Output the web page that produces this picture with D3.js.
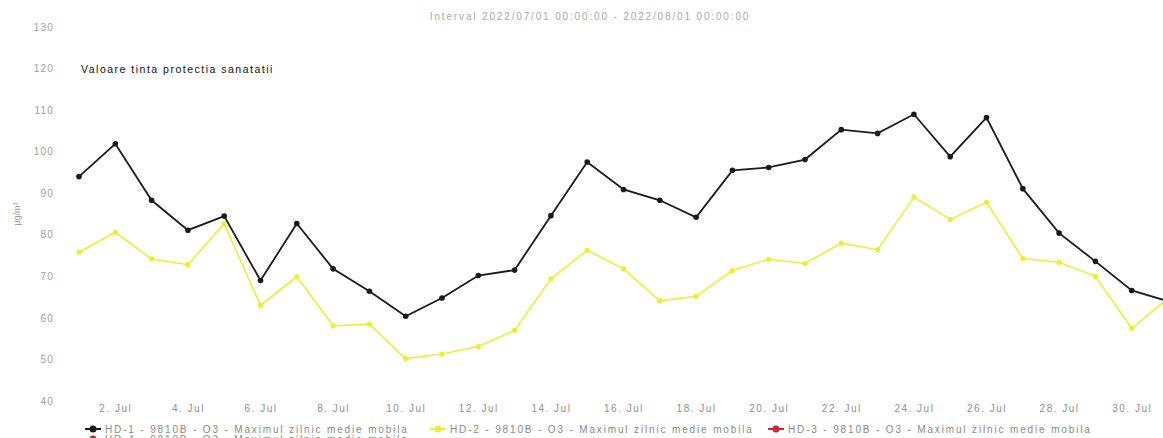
<!DOCTYPE html>
<html><head><meta charset="utf-8">
<script src="https://cdn.jsdelivr.net/npm/d3@7"></script>
<style>
html,body{margin:0;padding:0;background:#fff;overflow:hidden;}
svg{display:block;font-family:"Liberation Sans",Arial,sans-serif;}
</style></head><body>
<svg id="c" width="1163" height="438"></svg>
<script>
const days = d3.range(1, 32).map(d => new Date(2022, 6, d));
const hd1 = [94.0,101.9,88.3,81.1,84.5,69.0,82.7,71.8,66.4,60.4,64.8,70.2,71.5,84.6,97.5,90.9,88.3,84.2,95.5,96.2,98.1,105.3,104.4,109.0,98.8,108.2,91.1,80.4,73.6,66.6,64.0];
const hd2 = [75.8,80.6,74.2,72.8,82.7,63.0,69.9,58.1,58.5,50.2,51.3,53.1,57.0,69.4,76.3,71.8,64.1,65.2,71.4,74.1,73.1,78.0,76.4,89.1,83.7,87.8,74.3,73.4,70.0,57.5,64.7];
const yTicks = [40,50,60,70,80,90,100,110,120,130];
const xTickDays = d3.range(2, 31, 2);
const titleText = "Interval 2022/07/01 00:00:00 - 2022/08/01 00:00:00";
const targetLabel = "Valoare tinta protectia sanatatii";
const targetValue = 120;
const yTitle = "µg/m³";
const legendItems = [
  {name:"HD-1 - 9810B - O3 - Maximul zilnic medie mobila", color:"#1a1a1a"},
  {name:"HD-2 - 9810B - O3 - Maximul zilnic medie mobila", color:"#eeee3a"},
  {name:"HD-3 - 9810B - O3 - Maximul zilnic medie mobila", color:"#d2233c"},
  {name:"HD-4 - 9810B - O3 - Maximul zilnic medie mobila", color:"#b8283c"}
];

const svg = d3.select("#c");
const x = d3.scaleTime().domain([new Date(2022,6,1), new Date(2022,6,30)]).range([79, 1131.7]);
const y = d3.scaleLinear().domain([40,130]).range([401,27]);

// title
svg.append("text").attr("x", 590).attr("y", 20).attr("text-anchor","middle")
  .attr("font-size",10).attr("letter-spacing","1.85px").attr("fill","#a8a8a8").text(titleText);

// y axis
const yAxis = d3.axisLeft(y).tickValues(yTicks).tickSize(0).tickPadding(0);
const gy = svg.append("g").attr("transform","translate(54,0)").call(yAxis);
gy.select(".domain").remove();
gy.selectAll("text").attr("font-size",10).attr("letter-spacing","1.2px").attr("fill","#a0a0a0")
  .attr("font-family","Liberation Sans, Arial, sans-serif");

svg.append("text").attr("transform","translate(20,214) rotate(-90)").attr("text-anchor","middle")
  .attr("font-size",9).attr("fill","#a0a0a0").text(yTitle);

// x axis
const xAxis = d3.axisBottom(x).tickValues(xTickDays.map(d => new Date(2022,6,d)))
  .tickFormat(d3.timeFormat("%-d. Jul")).tickSize(0).tickPadding(0);
const gx = svg.append("g").attr("transform","translate(0,405)").call(xAxis);
gx.select(".domain").remove();
gx.selectAll("text").attr("font-size",10).attr("letter-spacing","1.5px").attr("fill","#909090")
  .attr("font-family","Liberation Sans, Arial, sans-serif");

// target label
svg.append("text").attr("x",81).attr("y",y(targetValue)+4).attr("font-size",10.5)
  .attr("letter-spacing","1.5px").attr("fill","#111").text(targetLabel);

// lines
const line = d3.line().x((d,i) => x(days[i])).y(d => y(d));
svg.append("path").datum(hd2).attr("d", line).attr("fill","none").attr("stroke","#eeee3a").attr("stroke-width",1.6);
svg.selectAll(".p2").data(hd2).enter().append("circle").attr("cx",(d,i)=>x(days[i])).attr("cy",d=>y(d))
  .attr("r",2.6).attr("fill","#eeee30");
svg.append("path").datum(hd1).attr("d", line).attr("fill","none").attr("stroke","#1a1a1a").attr("stroke-width",1.8);
svg.selectAll(".p1").data(hd1).enter().append("circle").attr("cx",(d,i)=>x(days[i])).attr("cy",d=>y(d))
  .attr("r",2.8).attr("fill","#1a1a1a");

// legend
const legPos = [[85,429],[430,429],[768,429],[85,439]];
legendItems.forEach((it,i) => {
  const [lx,ly] = legPos[i];
  const g = svg.append("g").attr("transform",`translate(${lx},${ly})`);
  g.append("line").attr("x1",0).attr("x2",16).attr("y1",0).attr("y2",0).attr("stroke",it.color).attr("stroke-width",2);
  g.append("circle").attr("cx",8).attr("cy",0).attr("r",3.5).attr("fill",it.color);
  g.append("text").attr("x",20).attr("y",3.5).attr("font-size",10).attr("letter-spacing","1.85px")
    .attr("fill","#8a8a8a").text(it.name);
});
</script></body></html>
